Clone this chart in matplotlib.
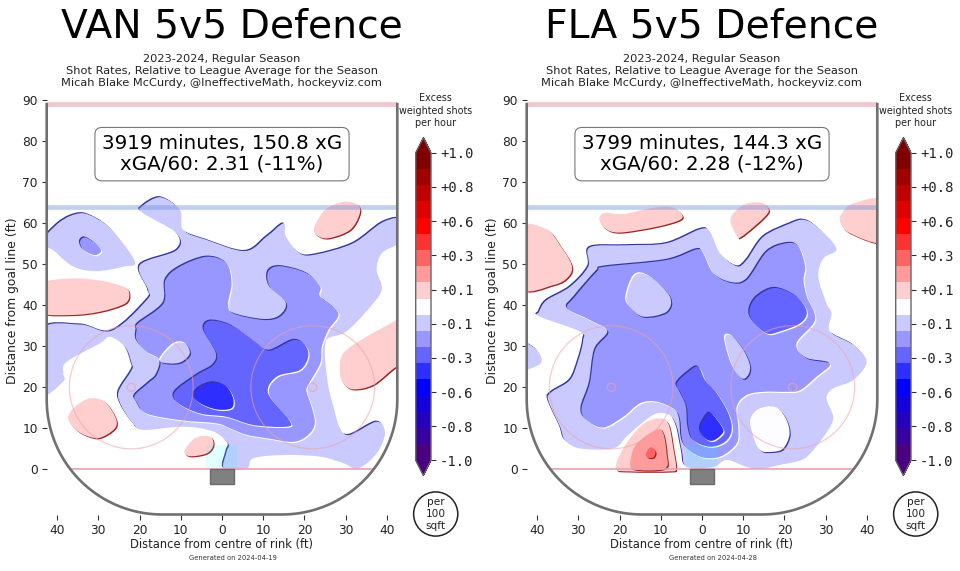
#!/usr/bin/env python3
"""
Shot rate maps for two teams, relative to league average.
Region outlines are in rink feet, read from the picture.
"""
import numpy as np
import matplotlib
matplotlib.use('Agg')
import matplotlib.pyplot as plt
import matplotlib.patheffects as pe
from matplotlib.cm import ScalarMappable
from matplotlib.colors import BoundaryNorm, LinearSegmentedColormap
from matplotlib.patches import Circle, PathPatch, Rectangle
from matplotlib.path import Path

W, H = 960, 571

TEAMS = ['VAN', 'FLA']
DATES = ['2024-04-19', '2024-04-28']
BOX_TEXT = ['3919 minutes, 150.8 xG\nxGA/60: 2.31 (-11%)',
            '3799 minutes, 144.3 xG\nxGA/60: 2.28 (-12%)']
SUBTITLE = ('2023-2024, Regular Season\n'
            'Shot Rates, Relative to League Average for the Season\n'
            'Micah Blake McCurdy, @IneffectiveMath, hockeyviz.com')

X_TICKS = [-40, -30, -20, -10, 0, 10, 20, 30, 40]
Y_TICKS = [0, 10, 20, 30, 40, 50, 60, 70, 80, 90]

# VAN outlines, x then y in feet
VAN_M1_MAIN = [(-44, 33.8), (-34.4, 35.3), (-26.7, 33.8), (-18.3, 41.2), (-17.9, 43.7), (-19.9, 49.8),
               (-11, 53.4), (-11, 57.5), (-19.1, 62.4), (-19.5, 64), (-15, 66.3), (-10.2, 63.2),
               (-9.4, 58.3), (-3.7, 55.9), (5.6, 53.2), (10.8, 56.7), (14.9, 59.9), (15.5, 56.7),
               (18.9, 52.6), (22.9, 52.4), (31.8, 55.1), (39.1, 60.3), (44, 60.8), (44, 55),
               (42.3, 54.6), (38.7, 52.6), (37.5, 48.6), (38.7, 43.7), (35, 38.5), (30, 33.5),
               (25.8, 32), (25, 29.9), (25, 26.6), (25.8, 20.1), (27, 15.3), (28.6, 10), (31, 8.4),
               (37.5, 11.6), (39.5, 8.8), (37.5, 3.9), (33, 0.2), (29.4, 1.5), (23.8, 3.1),
               (14.9, 3.5), (7.6, 2.7), (6, 0.2), (0.5, 0.2), (1.1, 4.3), (1.5, 6.3), (-2.1, 9.2),
               (-9.4, 10.4), (-19.1, 9.6), (-21.5, 11.2), (-24.3, 15.3), (-25.1, 18.9), (-21.9, 24.2),
               (-21.9, 25.8), (-23.5, 29.9), (-27.2, 32.3), (-29.6, 30.7), (-37.7, 26.2),
               (-38.5, 23.4), (-38.5, 21.4), (-44, 18.5)]
VAN_M1_LEFT = [(-44, 55), (-39.3, 60.3), (-34.4, 62.4), (-30.4, 61.1), (-26.3, 57.9), (-21.1, 50.6),
               (-23.9, 49.4), (-30.4, 48.3), (-36, 49.4), (-40.9, 53.4)]
VAN_M2_SPOT = [(-34.4, 55.5), (-33.2, 56.5), (-30.8, 55.1), (-29.3, 53.3), (-30.8, 52.2), (-33.6, 53.5)]
VAN_M2_MAIN = [(-20.3, 35.6), (-14.2, 40.4), (-13.7, 46.1), (-10.2, 49.4), (-3.7, 51.8), (1.1, 50.2),
               (2.3, 45.3), (1.5, 40.4), (2.7, 38), (10, 36.4), (14.1, 37.2), (15.7, 40.4),
               (11.6, 44.5), (11.2, 48.2), (14.1, 49.5), (20.5, 47.8), (23.8, 44.5), (23.8, 42.1),
               (28.2, 38), (25.8, 34), (24.2, 29.9), (23.8, 25.8), (20.9, 20.6), (20.5, 18.9),
               (21.7, 15.3), (22.5, 11.2), (20.9, 8.4), (17.3, 6.7), (10.8, 7.6), (6, 8.4), (1.9, 10),
               (-1.3, 11.2), (-10.2, 12), (-18.3, 13.6), (-20.7, 16.5), (-21.1, 18.1), (-17.9, 21),
               (-15.8, 23), (-15, 26.6), (-18.3, 28.7), (-20.7, 31.5), (-20.7, 34)]
VAN_M1_HOLE = [(-15, 26.6), (-11.8, 30.4), (-9, 30.7), (-7.8, 28.3), (-9.8, 26.2), (-12.6, 25.8)]
VAN_M3 = [(-2.9, 36.2), (1.9, 35.2), (6.8, 31.9), (8.4, 30.7), (11.6, 28.9), (17.3, 31.5), (20.1, 30.3),
          (20.9, 27.5), (18.9, 24.2), (13.3, 22.6), (11.2, 18.5), (16.3, 12), (15.7, 10.4), (7.6, 10.8),
          (1.1, 12.8), (-5.3, 13.6), (-10.6, 16.1), (-11.4, 18.9), (-6.1, 23), (-2.1, 25.4),
          (-1.3, 28.3), (-4.4, 34)]
VAN_M4 = [(-6.9, 18.1), (-5.3, 20.1), (-2.1, 21.2), (1.1, 20.1), (2.7, 17.3), (2.3, 14.9), (-1.3, 14.6),
          (-5.3, 16.1)]
VAN_P1_A = [(-44, 45), (-36.8, 46.5), (-29.6, 46), (-23.9, 44.5), (-22.5, 42.9), (-23.5, 40.4),
            (-29.6, 38.4), (-36.8, 37.6), (-44, 38.4)]
VAN_P1_B = [(22.4, 59.1), (25, 63.2), (29.4, 65.2), (33, 64.4), (33.3, 62), (31, 58.3), (25.8, 56.3),
            (22.9, 57.1)]
VAN_P1_C = [(28.6, 23.8), (29.4, 28.3), (35, 32.3), (42.3, 36.4), (44, 38), (44, 24), (42.3, 25),
            (36.7, 20.6), (31.8, 19.5), (29.4, 21)]
VAN_P1_D = [(-37.3, 12.4), (-35.6, 15.3), (-32, 17.3), (-28.4, 16.5), (-25.9, 12.8), (-25.7, 10.4),
            (-28, 8.4), (-30.8, 7.6), (-34.8, 9.2)]
VAN_P1_E = [(-9.1, 4.5), (-6.5, 7.6), (-2.9, 8), (-2.1, 5.9), (-3.7, 3.9), (-7.8, 3.2)]

# FLA outlines
FLA_M1_MAIN = [(-39.5, 38.4), (-37.7, 41.2), (-32, 44.5), (-27.6, 49.4), (-27.2, 54.1), (-18.3, 54.6),
               (-8.6, 55.1), (-0.5, 58.5), (1.9, 57.9), (4.4, 52.6), (8.4, 49.5), (10.8, 51),
               (14.9, 56.7), (21.3, 59.9), (24.6, 60.8), (27.8, 59.1), (32.6, 53.8), (29.4, 51.4),
               (28.2, 46.9), (30.2, 40.4), (31.4, 38), (31, 33.6), (36.7, 30.3), (39.9, 26.2),
               (36.7, 21.8), (31.8, 19.7), (30.2, 17.3), (31.8, 12.8), (30.6, 9.6), (27, 4.7),
               (24.2, 2.3), (18.9, 1.1), (14.1, 0.1), (10.8, 0.6), (6, 2.3), (2.7, 0.6), (-3.7, 0.6),
               (-4.9, 4.7), (-6.1, 10.4), (-7.8, 13.2), (-11, 13.6), (-14.2, 11.6), (-18.3, 8),
               (-21.5, 5.1), (-29.6, 5.1), (-33.2, 7.1), (-34.4, 10.4), (-37.3, 16.9), (-36.4, 18.9),
               (-32, 21.8), (-30, 26.6), (-28.8, 31.5), (-29.6, 33.6), (-39.3, 37.2)]
FLA_M1_LEFT = [(-44, 30.7), (-40.5, 29.5), (-38.9, 27), (-39.7, 25.4), (-44, 24.4)]
FLA_WHITE = [(12, 12), (14.1, 14.5), (18.1, 14.9), (20.5, 12), (21.2, 8.4), (19.7, 5.1), (17.3, 4.3),
             (14.1, 4.7), (12.4, 8.8)]
FLA_M2 = [(-32.6, 39.2), (-30.8, 42.1), (-25.5, 48.2), (-23.5, 49.4), (-8.6, 51), (-1.3, 53.6),
          (0.3, 52.6), (2.7, 47.8), (6.8, 45.5), (10.8, 46.1), (15.7, 53), (20.5, 55.1), (23.4, 54.3),
          (25, 49.4), (24.6, 46.1), (25.4, 42.1), (27.4, 36.4), (22.9, 30.7), (25.4, 27), (31, 25.7),
          (27.8, 22.6), (23.8, 19.3), (20.5, 18.9), (14.9, 18.9), (10.8, 18.1), (8.4, 15.3),
          (8.8, 10.4), (8.4, 6.3), (4.4, 3.1), (-0.5, 3.1), (-4.5, 6.3), (-5.3, 12), (-6.5, 14.5),
          (-11, 16.5), (-15, 16.1), (-19.1, 12.8), (-23.9, 10.2), (-28, 12), (-29.2, 14.9),
          (-27.2, 21), (-25.9, 29.1), (-22.7, 33.5), (-27.2, 36.4)]
FLA_M1_HOLE_A = [(-18.3, 42.1), (-16.2, 47.3), (-12.6, 46.9), (-7.8, 42.1), (-8.6, 38.4), (-14.2, 37.2),
                 (-17.5, 39.6)]
FLA_M1_HOLE_B = [(5.6, 31.9), (7.2, 32.5), (10, 29.1), (11.6, 25.4), (11.2, 23), (9.6, 22.2), (7.2, 25.8)]
FLA_M3_RIGHT = [(11.5, 38.8), (13.3, 42.1), (17.7, 44.2), (22.9, 42.1), (25.4, 38.4), (23.8, 35.6),
                (18.9, 33.6), (15.7, 33.1), (12.4, 36)]
FLA_M3_CENTRE = [(-6.1, 21), (-3.3, 23.8), (-0.9, 25), (0.7, 21.8), (3.6, 18.5), (6.4, 13.6), (7.2, 9.6),
                 (5.6, 6.7), (1.9, 5.5), (-2.1, 7.1), (-3.3, 10.4), (-3.7, 15.3), (-5.3, 18.9)]
FLA_M4 = [(-0.5, 10), (1.1, 13.2), (2.3, 13.6), (4.8, 10.4), (5, 8.8), (2.7, 7), (0.7, 7.6)]
FLA_P1_A = [(-44, 58.7), (-37.7, 58.5), (-34.4, 54.6), (-31.6, 49.8), (-32.4, 46.9), (-36, 44.9), (-44, 44.3)]
FLA_P1_B = [(-24.9, 61.1), (-23.5, 62.5), (-19.1, 62.2), (-12.6, 63.6), (-7.8, 64), (-5.1, 62.4),
            (-5.3, 60.8), (-11, 59.1), (-19.9, 57.7), (-23.5, 58.7)]
FLA_P1_C = [(6.9, 61.1), (10, 64.4), (14.1, 65), (16.1, 63.6), (15.3, 61.6), (9.6, 56.7), (8.4, 57.1)]
FLA_P1_D = [(44, 65.5), (36.7, 64.8), (33.9, 62.4), (33.5, 60.3), (35.9, 57.5), (44, 55.5)]
FLA_P1_E = [(-20.9, 0.2), (-19.1, 5.1), (-15, 10.4), (-11, 12.4), (-8.2, 11.2), (-6.9, 4.7), (-6.3, 0.2),
            (-7.8, -0.5), (-17.5, -0.5)]
FLA_P2 = [(-17.3, 2.3), (-15.8, 6.3), (-11, 9.7), (-9.4, 8.8), (-8.6, 3.9), (-9, 0.2), (-16.5, 0)]
FLA_P3 = [(-13.6, 3.9), (-12.4, 5.4), (-11.3, 4.3), (-11.8, 2.9), (-13.2, 2.9)]

# (colour band away from white, outline, raised above its surroundings), in drawing order
VAN_LAYERS = [(-1, VAN_M1_MAIN, False), (-1, VAN_M1_LEFT, False), (-2, VAN_M2_SPOT, False),
              (-2, VAN_M2_MAIN, False), (-1, VAN_M1_HOLE, True), (-3, VAN_M3, False), (-4, VAN_M4, False),
              (1, VAN_P1_A, True), (1, VAN_P1_B, True), (1, VAN_P1_C, True), (1, VAN_P1_D, True),
              (1, VAN_P1_E, True)]
FLA_LAYERS = [(-1, FLA_M1_MAIN, False), (-1, FLA_M1_LEFT, False), (0, FLA_WHITE, True), (-2, FLA_M2, False),
              (-1, FLA_M1_HOLE_A, True), (-1, FLA_M1_HOLE_B, True), (-3, FLA_M3_RIGHT, False),
              (-3, FLA_M3_CENTRE, False), (-4, FLA_M4, False), (1, FLA_P1_A, True), (1, FLA_P1_B, True),
              (1, FLA_P1_C, True), (1, FLA_P1_D, True), (1, FLA_P1_E, True), (2, FLA_P2, True), (3, FLA_P3, True)]
LAYERS = [VAN_LAYERS, FLA_LAYERS]

cmap = LinearSegmentedColormap.from_list(
    'excess', [(0, 'indigo'), (0.225, 'blue'), (0.5, 'white'), (0.775, 'red'), (1, 'maroon')])
levels = np.linspace(-1, 1, 20)
norm = BoundaryNorm(levels, 256)

SHADOW = 0.8
DARK_BLUE = '#34389c'
DARK_RED = '#9a2424'


def smooth_path(pts):
    """Closed smooth outline through the points, as cubic Bezier segments."""
    p = np.array(pts, dtype=float)
    prev = np.roll(p, 1, axis=0)
    nxt = np.roll(p, -1, axis=0)
    nxt2 = np.roll(p, -2, axis=0)
    verts = [p[0]]
    codes = [Path.MOVETO]
    for i in range(len(p)):
        verts += [p[i] + (nxt[i] - prev[i]) / 6, nxt[i] - (nxt2[i] - p[i]) / 6, nxt[i]]
        codes += [Path.CURVE4, Path.CURVE4, Path.CURVE4]
    return Path(verts, codes)


def rink_outline():
    """Boards: straight sides down to the corners, radius 28 ft centred at y=17."""
    t = np.linspace(np.pi, 1.5 * np.pi, 40)
    left_x = -14.5 + 28 * np.cos(t)
    left_y = 17 + 28 * np.sin(t)
    xs = np.r_[-42.5, left_x, -left_x[::-1], 42.5]
    ys = np.r_[89, left_y, left_y[::-1], 89]
    return xs, ys


def emboss(band, raised):
    """Dark edge on the shaded side of a contour, pale edge on the lit side."""
    down = (SHADOW, -SHADOW)
    up = (-SHADOW, SHADOW)
    if raised and band > 0:
        return [pe.SimplePatchShadow(offset=down, shadow_rgbFace=DARK_RED, alpha=1), pe.Normal()]
    if raised:
        return [pe.SimplePatchShadow(offset=up, shadow_rgbFace='white', alpha=1),
                pe.SimplePatchShadow(offset=down, shadow_rgbFace=DARK_BLUE, alpha=1), pe.Normal()]
    return [pe.SimplePatchShadow(offset=up, shadow_rgbFace=DARK_BLUE, alpha=1),
            pe.SimplePatchShadow(offset=down, shadow_rgbFace='white', alpha=1), pe.Normal()]


def draw_panel(i, offset):
    ax = fig.add_axes([(offset + 46.7) / W, 1 - 514.5 / H, 350.6 / W, 414.5 / H])
    ax.set_xlim(-42.5, 42.5)
    ax.set_ylim(-11, 90)
    for s in ax.spines.values():
        s.set_visible(False)

    xs, ys = rink_outline()
    clip = Path(np.c_[np.r_[xs, 42.5, -42.5], np.r_[ys, 90, 90]])
    clip_patch = PathPatch(clip, transform=ax.transData, fc='none', ec='none')
    ax.add_patch(clip_patch)

    for band, pts, raised in LAYERS[i]:
        colour = cmap(norm(band * 2 / 19))
        patch = PathPatch(smooth_path(pts), fc=colour, ec='none', lw=0, zorder=2)
        patch.set_path_effects(emboss(band, raised))
        ax.add_patch(patch)
        patch.set_clip_path(clip_patch)

    # crease tint
    ax.add_patch(Rectangle((-3.9, 0), 7.6, 5.9, fc='cyan', ec='none', alpha=0.12, zorder=3))

    # rink markings
    ax.plot([-42.5, 42.5], [89, 89], color='#e8a0b0', lw=3.4, alpha=0.6, zorder=4, solid_capstyle='butt')
    ax.plot([-42.5, 42.5], [64, 64], color='#6f8fd8', lw=3.4, alpha=0.42, zorder=4, solid_capstyle='butt')
    ax.plot([-36.5, 36.5], [0, 0], color='#e8a0b0', lw=1.5, alpha=0.8, zorder=4)
    for cx in [-22, 22]:
        ax.add_patch(Circle((cx, 20), 15, fc='none', ec='#f0a0a8', lw=0.9, alpha=0.55, zorder=4))
        ax.add_patch(Circle((cx, 20), 1, fc='none', ec='#f0a0a8', lw=0.9, alpha=0.7, zorder=4))
    ax.plot(xs, ys, color='#707070', lw=1.9, zorder=5, clip_on=False)
    ax.add_patch(Rectangle((-2.9, -3.6), 5.8, 3.6, fc='#808080', ec='#6a6a6a', lw=1, zorder=5))

    ax.set_xticks(X_TICKS)
    ax.set_xticklabels([str(abs(v)) for v in X_TICKS])
    ax.set_yticks(Y_TICKS)
    ax.tick_params(labelsize=8.8, labelcolor='#222222', color='#333333', pad=3, length=3.5, width=0.8)
    ax.set_xlabel('Distance from centre of rink (ft)', fontsize=8.3, color='#222222', labelpad=1)
    ax.set_ylabel('Distance from goal line (ft)', fontsize=8.9, color='#222222')
    ax.yaxis.set_label_coords(-0.079, 0.515)

    ax.text(0, 76.8, BOX_TEXT[i], fontsize=14.3, ha='center', va='center', color='black', zorder=6,
            linespacing=1.1, bbox=dict(boxstyle='round,pad=0.35', fc='white', ec='#777777', lw=0.8))

    fig.text((offset + 232) / W, 1 - 27 / H, f'{TEAMS[i]} 5v5 Defence', fontsize=28.3, ha='center', va='center')
    fig.text((offset + 221.5) / W, 1 - 71 / H, SUBTITLE, fontsize=8.2, ha='center', va='center',
             linespacing=1.3, color='#222222')
    fig.text((offset + 233) / W, 1 - 558 / H, f'Generated on {DATES[i]}', fontsize=4.9, ha='center', va='center',
             color='#333333')

    # colour bar, axes spans the arrow tips
    cax = fig.add_axes([(offset + 415.7) / W, 1 - 475.5 / H, 15.3 / W, 337.8 / H])
    cb = fig.colorbar(ScalarMappable(norm=norm, cmap=cmap), cax=cax, extend='both', extendfrac=0.049,
                      ticks=np.linspace(-1, 1, 10), format='%+.1f')
    cb.outline.set_edgecolor('#666666')
    cb.outline.set_linewidth(1)
    cb.ax.minorticks_off()
    cb.ax.tick_params(labelsize=10, length=3.5, width=0.8, color='#333333', labelcolor='#222222', pad=3)
    for lab in cb.ax.get_yticklabels():
        lab.set_family('DejaVu Sans Mono')

    fig.text((offset + 435.5) / W, 1 - 110.5 / H, 'Excess\nweighted shots\nper hour', fontsize=6.95, ha='center',
             va='center', linespacing=1.3, color='#222222')
    fig.text((offset + 435.7) / W, 1 - 514 / H, 'per\n100\nsqft', fontsize=7.6, ha='center', va='center',
             linespacing=1.2, color='#222222',
             bbox=dict(boxstyle='circle,pad=0.52', fc='white', ec='#222222', lw=1.1))


fig = plt.figure(figsize=(W / 100, H / 100), dpi=100)
for i, offset in enumerate([0, 480]):
    draw_panel(i, offset)

plt.savefig('out.png', dpi=100)
plt.close()
